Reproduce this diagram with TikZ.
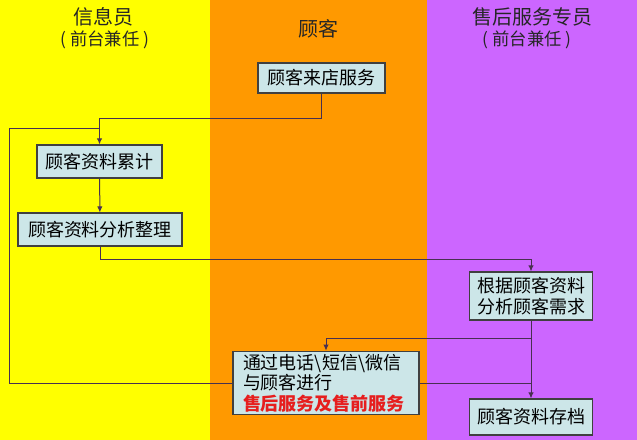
\documentclass[tikz,border=0pt]{standalone}
\usepackage{fontspec}
\setmainfont{Noto Sans CJK SC}
\usetikzlibrary{
  calc,positioning,
  arrows,arrows.meta
}

\definecolor{laneyellow}{RGB}{255,255,0}
\definecolor{laneorange}{RGB}{255,153,0}
\definecolor{lanepurple}{RGB}{204,102,255}
\definecolor{boxfill}{RGB}{204,230,232}
\definecolor{boxline}{RGB}{64,64,64}
\definecolor{flowline}{RGB}{72,48,80}
\definecolor{alertred}{RGB}{230,30,30}

\tikzset{
  stepbox/.style={draw=boxline,fill=boxfill,line width=0.8pt,inner sep=2pt,
    font=\fontsize{13.5}{15.5}\selectfont,align=left},
  flow/.style={draw=flowline,line width=0.75pt},
  flowarr/.style={flow,-{Latex[length=4.5pt,width=4pt]}},
  lanehead/.style={font=\fontsize{15}{18}\selectfont,text=black!85},
  lanesub/.style={font=\fontsize{13}{15}\selectfont,text=black!85}
}

\begin{document}
\begin{tikzpicture}[x=0.75pt,y=-0.75pt]
\useasboundingbox (0,0) rectangle (637,440);

% lanes
\fill[laneyellow] (0,0) rectangle (210,440);
\fill[laneorange] (210,0) rectangle (427,440);
\fill[lanepurple] (427,0) rectangle (637,440);

\node[lanehead] (infohead) at (104,17) {信息员};
\node[lanesub] (infosub) at (105,40) {( 前台兼任 )};
\node[lanehead] (custhead) at (318,29) {顾客};
\node[lanehead] (servhead) at (532,17) {售后服务专员};
\node[lanesub] (servsub) at (527,40) {( 前台兼任 )};

% steps
\node[stepbox,minimum width=95.25pt,minimum height=22.5pt] (visit) at (321.5,78) {顾客来店服务};
\node[stepbox,minimum width=93.75pt,minimum height=24.75pt] (accum) at (99.5,161.5) {顾客资料累计};
\node[stepbox,minimum width=123pt,minimum height=24.75pt] (analyze) at (100,229.5) {顾客资料分析整理};
\node[stepbox,minimum width=92.25pt,minimum height=36pt] (needs) at (531,296) {根据顾客资料\\分析顾客需求};
\node[stepbox,text width=124.5pt,inner xsep=7.5pt,minimum height=47.25pt] (contact) at (326,383)
  {通过电话\textbackslash 短信\textbackslash 微信\\与顾客进行\\\textcolor{alertred}{\bfseries 售后服务及售前服务}};
\node[stepbox,minimum width=92.25pt,minimum height=27pt] (archive) at (531,417) {顾客资料存档};

% connectors
\coordinate (loopturn) at (9,128);
\draw[flowarr] (visit.south) -- ++(0,25) -| (accum.north);
\draw[flowarr] (accum) -- (analyze);
\draw[flowarr] (analyze.south) -- ++(0,13) -| (needs.north);
\draw[flowarr] (needs) -- (archive);
\draw[flowarr] (needs.south) -- ++(0,18) -| (contact.north);
\draw[flow] (contact.east) -- (contact.east -| archive.north);
\draw[flow] (contact.west) -| (loopturn) -- (loopturn -| accum.north);
\end{tikzpicture}
\end{document}
